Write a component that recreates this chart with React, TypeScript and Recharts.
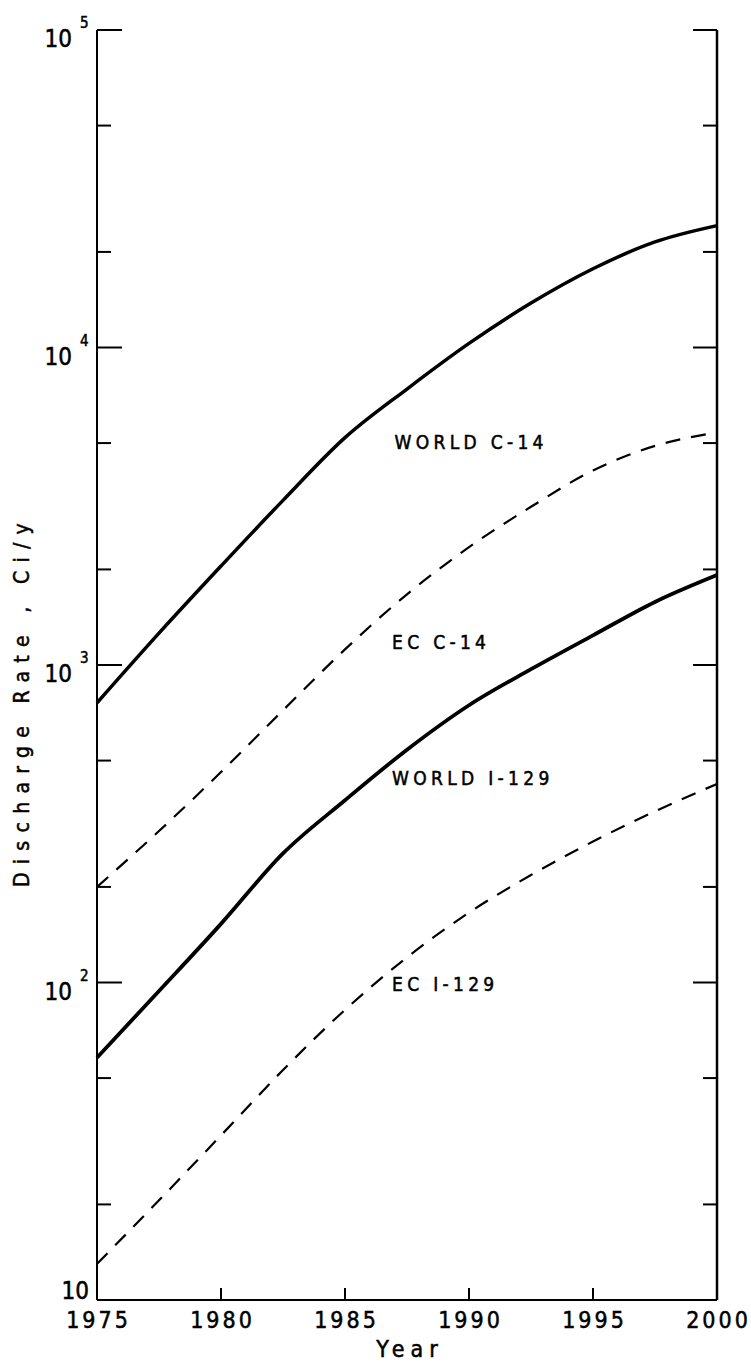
import { LineChart, Line, XAxis, YAxis, ReferenceDot } from "recharts"

// Projected annual discharges (Ci/y) by year
const years = [1975, 1977.5, 1980, 1982.5, 1985, 1987.5, 1990, 1992.5, 1995, 1997.5, 2000]
const worldC14 = [760, 1260, 2050, 3300, 5200, 7400, 10300, 13800, 17700, 21500, 24200]
const ecC14 = [200, 300, 460, 720, 1120, 1670, 2350, 3150, 4100, 4900, 5400]
const worldI129 = [58, 94, 153, 255, 375, 541, 747, 970, 1240, 1580, 1920]
const ecI129 = [13, 20.6, 33, 53, 82, 120, 166, 218, 278, 346, 422]

const yearTicks = [1975, 1980, 1985, 1990, 1995, 2000]
const rateTicks = [10, 20, 50, 100, 200, 500, 1000, 2000, 5000, 10000, 20000, 50000, 100000]

// in-plot curve names, anchored at (year, rate)
const labelNames = ["WORLD C-14", "EC C-14", "WORLD I-129", "EC I-129"]
const labelYears = [1987.0, 1986.9, 1986.9, 1986.9]
const labelRates = [5040, 1180, 441, 99]

const FONT = "'Liberation Sans Narrow', 'DejaVu Sans Condensed', 'Liberation Sans', sans-serif"

const data = years.map((year, i) => ({
  year,
  worldC14: worldC14[i],
  ecC14: ecC14[i],
  worldI129: worldI129[i],
  ecI129: ecI129[i],
}))

const isDecade = (v: number) => Math.abs(Math.log10(v) - Math.round(Math.log10(v))) < 1e-6

const textStyle = { fontFamily: FONT, fill: "#000", stroke: "#000", strokeWidth: 0.5 }

function LeftTick(props: any) {
  const { x, y, payload } = props
  const v = payload.value as number
  const major = isDecade(v)
  const exp = Math.round(Math.log10(v))
  return (
    <g>
      <line x1={x} y1={y} x2={x + (major ? 25 : 14)} y2={y} stroke="#000" strokeWidth={2} />
      {major && exp === 1 && (
        <text x={x - 8} y={y - 1} textAnchor="end" fontSize={24} style={textStyle}>
          10
        </text>
      )}
      {major && exp > 1 && (
        <g>
          <text x={x - 25} y={y + 17} textAnchor="end" fontSize={24} style={textStyle}>
            10
          </text>
          <text x={x - 17} y={y - 2} textAnchor="start" fontSize={15} style={textStyle}>
            {exp}
          </text>
        </g>
      )}
    </g>
  )
}

function RightTick(props: any) {
  const { x, y, payload } = props
  const major = isDecade(payload.value)
  return <line x1={x} y1={y} x2={x - (major ? 24 : 14)} y2={y} stroke="#000" strokeWidth={2} />
}

function YearTick(props: any) {
  const { x, y, payload } = props
  return (
    <g>
      <line x1={x} y1={y} x2={x} y2={y - 12} stroke="#000" strokeWidth={2} />
      <text x={x + 1.5} y={y + 28} textAnchor="middle" fontSize={23} letterSpacing={3} style={textStyle}>
        {payload.value}
      </text>
    </g>
  )
}

function YTitle(props: any) {
  const vb = props.viewBox
  const cx = vb.x + 22
  const cy = vb.y + vb.height / 2 + 36
  return (
    <text
      x={cx}
      y={cy}
      transform={`rotate(-90 ${cx} ${cy})`}
      textAnchor="middle"
      dominantBaseline="central"
      fontSize={21}
      letterSpacing={8.3}
      style={textStyle}
    >
      Discharge Rate , Ci/y
    </text>
  )
}

function XTitle(props: any) {
  const vb = props.viewBox
  return (
    <text
      x={vb.x + vb.width / 2 + 3}
      y={vb.y + 57}
      textAnchor="middle"
      fontSize={23}
      letterSpacing={6}
      style={textStyle}
    >
      Year
    </text>
  )
}

function CurveName(props: any) {
  const vb = props.viewBox
  return (
    <text x={vb.x} y={vb.y} dominantBaseline="central" fontSize={19} letterSpacing={4.3} style={textStyle}>
      {props.value}
    </text>
  )
}

export default function App() {
  return (
    <div style={{ position: "absolute", left: 0, top: 0, background: "#fff" }}>
      <LineChart width={751} height={1364} data={data} margin={{ top: 30, right: 0, bottom: 0, left: 0 }}>
        <XAxis
          xAxisId="year"
          dataKey="year"
          type="number"
          domain={[1975, 2000]}
          ticks={yearTicks}
          height={64}
          tickSize={0}
          tickMargin={0}
          tick={(p: any) => <YearTick {...p} />}
          axisLine={{ stroke: "#000", strokeWidth: 2 }}
          tickLine={false}
          label={(p: any) => <XTitle {...p} />}
        />
        <XAxis
          xAxisId="top"
          orientation="top"
          dataKey="year"
          type="number"
          domain={[1975, 2000]}
          height={0}
          tick={false}
          tickLine={false}
          axisLine={{ stroke: "#000", strokeWidth: 2 }}
        />
        <YAxis
          yAxisId="left"
          type="number"
          scale="log"
          domain={[10, 100000]}
          allowDataOverflow
          ticks={rateTicks}
          width={97}
          tickSize={0}
          tickMargin={0}
          tick={(p: any) => <LeftTick {...p} />}
          tickLine={false}
          axisLine={{ stroke: "#000", strokeWidth: 2 }}
          label={(p: any) => <YTitle {...p} />}
        />
        <YAxis
          yAxisId="right"
          orientation="right"
          type="number"
          scale="log"
          domain={[10, 100000]}
          allowDataOverflow
          ticks={rateTicks}
          width={34}
          tickSize={0}
          tickMargin={0}
          tick={(p: any) => <RightTick {...p} />}
          tickLine={false}
          axisLine={{ stroke: "#000", strokeWidth: 2.5 }}
        />
        <Line xAxisId="year" yAxisId="left" type="monotone" dataKey="worldC14" stroke="#000" strokeWidth={3.5} dot={false} isAnimationActive={false} />
        <Line xAxisId="year" yAxisId="left" type="monotone" dataKey="ecC14" stroke="#000" strokeWidth={2.2} strokeDasharray="15 11" dot={false} isAnimationActive={false} />
        <Line xAxisId="year" yAxisId="left" type="monotone" dataKey="worldI129" stroke="#000" strokeWidth={3.8} dot={false} isAnimationActive={false} />
        <Line xAxisId="year" yAxisId="left" type="monotone" dataKey="ecI129" stroke="#000" strokeWidth={2.2} strokeDasharray="15 11" dot={false} isAnimationActive={false} />
        {labelNames.map((name, i) => (
          <ReferenceDot
            key={name}
            xAxisId="year"
            yAxisId="left"
            x={labelYears[i]}
            y={labelRates[i]}
            r={0}
            fill="none"
            stroke="none"
            label={(p: any) => <CurveName {...p} value={name} />}
          />
        ))}
      </LineChart>
    </div>
  )
}
